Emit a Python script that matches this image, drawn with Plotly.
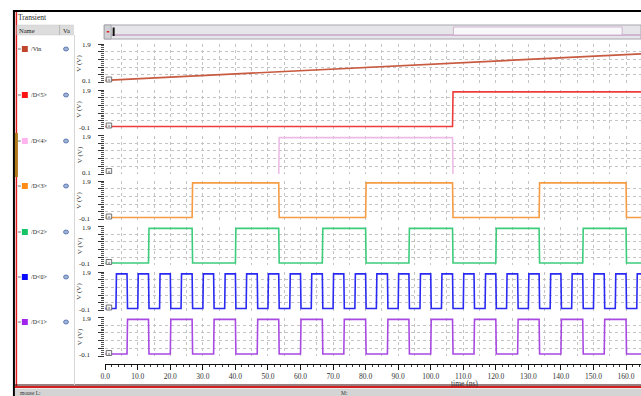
import plotly.graph_objects as go

W, H = 641, 396
SERIF = "Liberation Serif, Times New Roman, serif"

# ---- data -------------------------------------------------------------
T_MAX = 164.6                     # visible end of the time axis (ns)

vin_t = [0.0, 164.6]              # input ramp (ns)
vin_v = [0.2, 1.44]               # input ramp (V)

V_LOW, V_HIGH = 0.0, 1.8          # logic levels (V)
RISE = 0.15                       # edge time (ns)

# toggle instants of each counter bit (ns); every bit starts low
d5_edges = [106.7]
d4_edges = [53.3, 106.7]
d3_edges = [26.7, 53.3, 80.0, 106.7, 133.3, 160.0]
d2_edges = [13.3, 26.7, 40.0, 53.3, 66.7, 80.0, 93.3, 106.7, 120.0, 133.3,
            146.7, 160.0]
d1_edges = [6.7, 13.3, 20.0, 26.7, 33.3, 40.0, 46.7, 53.3, 60.0, 66.7, 73.3,
            80.0, 86.7, 93.3, 100.0, 106.7, 113.3, 120.0, 126.7, 133.3, 140.0,
            146.7, 153.3, 160.0]
d0_edges = [3.3, 6.7, 10.0, 13.3, 16.7, 20.0, 23.3, 26.7, 30.0, 33.3, 36.7,
            40.0, 43.3, 46.7, 50.0, 53.3, 56.7, 60.0, 63.3, 66.7, 70.0, 73.3,
            76.7, 80.0, 83.3, 86.7, 90.0, 93.3, 96.7, 100.0, 103.3, 106.7,
            110.0, 113.3, 116.7, 120.0, 123.3, 126.7, 130.0, 133.3, 136.7,
            140.0, 143.3, 146.7, 150.0, 153.3, 156.7, 160.0, 163.3]

names = ["/Vin", "/D<5>", "/D<4>", "/D<3>", "/D<2>", "/D<0>", "/D<1>"]
swatch_colors = ["#c0452c", "#ff1414", "#ffb4f0", "#ff8c14", "#14c466",
                 "#0a0aff", "#a024ee"]
line_colors = ["#c85a40", "#ee3c3c", "#ecbce6", "#f59c44", "#3ccc7c",
               "#2a2af2", "#a84ae2"]
y_bottom_labels = ["0.1", "-0.1", "0.1", "-0.1", "-0.1", "-0.1", "-0.1"]
y_top_label = "1.9"

# ---- layout geometry (pixels) -----------------------------------------
PLOT_LEFT = 101
ROW_TOPS = [44, 90, 135.5, 181, 226.5, 272, 317.5]
ROW_H = 38.5
X_AXIS_Y = 363
LEGEND_Y = [49, 95, 141, 186, 232, 277, 322]


def px(x):
    return x / W


def py(y):
    return 1 - y / H


def square_wave(edges):
    xs, ys = [0.0], [V_LOW]
    level = V_LOW
    for e in edges:
        new = V_HIGH if level == V_LOW else V_LOW
        xs += [e, e + RISE]
        ys += [level, new]
        level = new
    xs.append(T_MAX)
    ys.append(level)
    return xs, ys


waves = [(vin_t, vin_v)] + [square_wave(e) for e in
                            (d5_edges, d4_edges, d3_edges, d2_edges,
                             d0_edges, d1_edges)]

fig = go.Figure()
layout = dict(
    width=W, height=H, margin=dict(l=0, r=0, t=0, b=0),
    paper_bgcolor="white", plot_bgcolor="white", showlegend=False,
    font=dict(family=SERIF, size=8, color="#222"),
)

shapes, ann = [], []


def rect(x0, y0, x1, y1, fill, line=None, lw=0, layer="above"):
    shapes.append(dict(type="rect", xref="paper", yref="paper",
                       x0=px(x0), x1=px(x1), y0=py(y1), y1=py(y0),
                       fillcolor=fill, layer=layer,
                       line=dict(color=line or fill, width=lw)))


def line(x0, y0, x1, y1, color, w=1):
    shapes.append(dict(type="line", xref="paper", yref="paper",
                       x0=px(x0), x1=px(x1), y0=py(y0), y1=py(y1),
                       line=dict(color=color, width=w)))


def text(x, y, s, size=7, color="#222", anchor="left", angle=0):
    ann.append(dict(x=px(x), y=py(y), xref="paper", yref="paper", text=s,
                    showarrow=False, xanchor=anchor, yanchor="middle",
                    textangle=angle, borderpad=0,
                    font=dict(family=SERIF, size=size, color=color)))


for i, (xs, ys) in enumerate(waves):
    n = i + 1
    sfx = "" if n == 1 else str(n)
    fig.add_trace(go.Scatter(
        x=xs, y=ys, mode="lines", xaxis="x" + sfx, yaxis="y" + sfx,
        line=dict(color=line_colors[i], width=1.6), hoverinfo="skip"))

    top = ROW_TOPS[i]
    bot = top + ROW_H
    lo = float(y_bottom_labels[i])
    hi = 1.9
    step = (hi - lo) / 5
    majors = [round(lo + k * step, 3) for k in range(6)]
    minors = [round(lo + k * (hi - lo) / 20, 3) for k in range(21)]

    layout["xaxis" + sfx] = dict(
        domain=[px(PLOT_LEFT), 1], range=[0, T_MAX], anchor="y" + sfx,
        showticklabels=False, ticks="", showline=False, zeroline=False,
        showgrid=True, dtick=5, tick0=0, gridcolor="#c4c4c4",
        griddash="dot", gridwidth=1,
        **({} if n == 1 else {"matches": "x"}))
    layout["yaxis" + sfx] = dict(
        domain=[py(bot), py(top)], range=[lo, hi], anchor="x" + sfx,
        tickmode="array", tickvals=majors, showticklabels=False,
        ticks="outside", ticklen=6, tickwidth=1, tickcolor="#333",
        minor=dict(tickmode="array", tickvals=minors, ticks="outside",
                   ticklen=3, tickcolor="#555", showgrid=False),
        showgrid=True, gridcolor="#c4c4c4", griddash="dot",
        zeroline=False, showline=False)

    # end labels of the voltage axis
    text(88, top + 1, y_top_label, 7, "#222", "right")
    text(88, bot - 1, y_bottom_labels[i], 7, "#222", "right")

# separate strip that carries the time axis
fig.add_trace(go.Scatter(x=[0, T_MAX], y=[0, 0], mode="markers",
                         marker=dict(opacity=0), xaxis="x8", yaxis="y8",
                         hoverinfo="skip"))
layout["xaxis8"] = dict(
    domain=[px(PLOT_LEFT), 1], range=[0, T_MAX], anchor="y8", matches="x",
    showline=True, linecolor="#111", linewidth=1, ticks="outside",
    ticklen=5, tickcolor="#111", dtick=10, tick0=0, tickformat=".1f",
    minor=dict(ticks="outside", ticklen=2, dtick=2, tickcolor="#333"),
    showgrid=False, zeroline=False,
    tickfont=dict(family=SERIF, size=7.5, color="#333"))
layout["yaxis8"] = dict(domain=[py(X_AXIS_Y + 0.5), py(X_AXIS_Y - 0.5)],
                        anchor="x8", visible=False, range=[-1, 1])

# window frame
line(8, 11, W, 11, "#000", 2)
line(9, 11, 9, H, "#000", 2)
line(11.5, 12, 11.5, 386, "#e02020", 1.5)
line(10, 385, W, 385, "#300", 1)
line(10, 387, W, 387, "#d02020", 2)
rect(10, 388.5, W, H, "#d4d4d4")
text(14, 393, "mouse L:", 5.5, "#333")
text(338, 393, "M:", 5.5, "#333")

# left panel
text(12, 17, "Transient", 7.5)
rect(12, 25, 69, 35, "#dcdcdc", "#c8c8c8", 0.5)
line(55, 25, 55, 35, "#b8b8b8", 1)
text(13, 30, "Name", 6.5)
text(57, 30, "Va", 6.5)
line(70, 35, 70, 385, "#d6d6d6", 1)
rect(10, 133, 13, 177, "#b07a1c")

for i, yc in enumerate(LEGEND_Y):
    line(13, yc, 16, yc, "#777", 1)
    rect(17, yc - 3, 23, yc + 3, swatch_colors[i])
    text(25, yc, names[i], 6, "#222")
    shapes.append(dict(type="circle", xref="paper", yref="paper",
                       x0=px(59), x1=px(64), y0=py(yc + 2), y1=py(yc - 2),
                       fillcolor="#9fb2d8", line=dict(color="#4a68a8",
                                                      width=0.8)))

# per-row axis titles and marker boxes
for i, top in enumerate(ROW_TOPS):
    text(75, top + ROW_H / 2, "V (V)", 7, "#333", "center", -90)
    bot = top + ROW_H
    rect(102, bot - 5.5, 107.5, bot - 0.5, "#f2f2f2", "#555", 0.8)
    text(104.75, bot - 3, "a", 4.5, "#444", "center")

# scroll bar above the plots
rect(100, 25, W, 39, "#e6e6ea", "#a6a6ae", 1)
line(100, 35, W, 35, "#c8a6c8", 1.5)
rect(452, 27, 622, 35, "#f8f8fa", "#c8a6c8", 0.8)
rect(100, 25, 107, 39, "#cfcfd4", "#a6a6ae", 1)
rect(102.5, 31, 105, 32.5, "#e02020")
rect(108.5, 27.5, 110.5, 36, "#111")

# time axis title
text(463, 383.5, "time (ns)", 7.5, "#333", "center")

layout["shapes"] = shapes
layout["annotations"] = ann
fig.update_layout(**layout)
fig.write_html("out.html")
